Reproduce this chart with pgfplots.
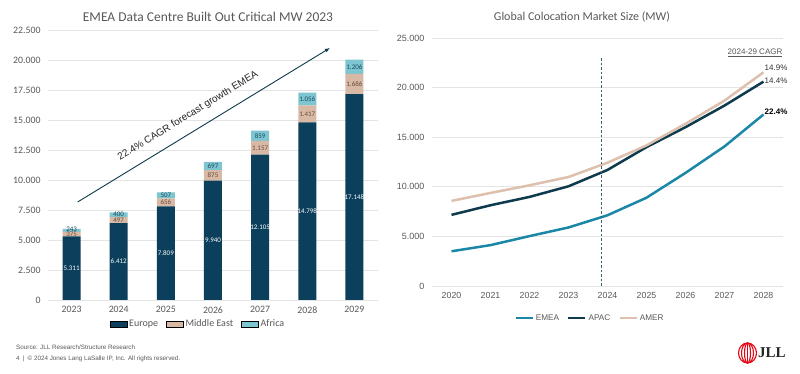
\documentclass[border=0pt]{standalone}
\usepackage{pgfplots}
\pgfplotsset{compat=1.18}
\usepackage{fontspec}
\setmainfont{Carlito}
\newfontfamily\arial{Liberation Sans}
\newfontfamily\serifb{Liberation Serif}
\usetikzlibrary{arrows.meta}
\definecolor{europe}{HTML}{0B3F5C}
\definecolor{mideast}{HTML}{D8B9A5}
\definecolor{africa}{HTML}{7DC5D1}
\definecolor{emea}{HTML}{1A87A6}
\definecolor{apac}{HTML}{0D3A4C}
\definecolor{amer}{HTML}{DDC0AE}
\definecolor{gridc}{HTML}{E4E4E4}
\definecolor{txt}{HTML}{595959}
\definecolor{melab}{HTML}{6A4C3C}
\definecolor{aflab}{HTML}{1C4A5C}
\definecolor{jllred}{HTML}{E30613}
\tikzset{seg/.style={font=\fontsize{7}{8}\selectfont, inner sep=0pt}}
\begin{document}
\begin{tikzpicture}
\begin{scope}[x=1pt,y=1pt]
\path[fill=white] (0,0) rectangle (800,374);
\node[font=\fontsize{13.5}{15}\selectfont, text=txt] at (208,357) {EMEA Data Centre Built Out Critical MW 2023};
\node[font=\fontsize{12}{14}\selectfont, text=txt] at (582,357) {Global Colocation Market Size (MW)};
\node[font=\arial\fontsize{8}{9}\selectfont, text=txt] at (755,321) {\underline{2024-29 CAGR}};
\node[anchor=west, inner sep=0pt, font=\arial\fontsize{6.3}{7}\selectfont, text=txt] at (16,27) {Source: JLL Research/Structure Research};
\node[anchor=west, inner sep=0pt, font=\arial\fontsize{6.3}{7}\selectfont, text=txt] at (16,15) {4\enspace|\enspace\textcopyright\ 2024 Jones Lang LaSalle IP, Inc. All rights reserved.};
\begin{scope}[jllred, line width=1.1pt]
\draw (747.5,21) ellipse (9pt and 10pt);
\draw (747.5,21) ellipse (6pt and 10pt);
\draw (747.5,21) ellipse (3pt and 10pt);
\draw (747.5,11) -- (747.5,31);
\end{scope}
\node[anchor=west, inner sep=0pt, font=\serifb\bfseries\fontsize{15}{16}\selectfont, text=black!85] at (758,21) {JLL};
\end{scope}
% left chart
\begin{axis}[
  at={(48pt,74pt)}, anchor=south west, scale only axis, width=330pt, height=270pt,
  ybar stacked, bar width=18pt,
  xmin=-0.5, xmax=6.5, ymin=0, ymax=22500,
  xtick={0,...,6}, xticklabels={2023,2024,2025,2026,2027,2028,2029},
  ytick={0,2500,...,22500}, scaled y ticks=false,
  axis line style={draw=none}, major tick style={draw=none},
  ymajorgrids, grid style={gridc, line width=0.7pt},
  /pgf/number format/assume math mode=true,
  yticklabel style={/pgf/number format/1000 sep={.}, /pgf/number format/fixed, font=\fontsize{9.8}{11}\selectfont, text=txt, xshift=-4pt},
  xticklabel style={font=\fontsize{9.8}{11}\selectfont, text=txt, yshift=-3pt},
  area legend,
  legend style={at={(0.4545,-0.089)}, anchor=center, draw=none, fill=none,
    legend columns=-1, font=\fontsize{10}{11}\selectfont, text=txt,
    /tikz/every even column/.append style={column sep=6pt}},
]
\addplot[fill=europe, draw=none] coordinates {(0,5311) (1,6412) (2,7809) (3,9940) (4,12105) (5,14798) (6,17148)};
\addplot[fill=mideast, draw=none] coordinates {(0,375) (1,497) (2,656) (3,875) (4,1157) (5,1417) (6,1686)};
\addplot[fill=africa, draw=none] coordinates {(0,243) (1,400) (2,507) (3,697) (4,859) (5,1056) (6,1206)};
\legend{Europe, Middle East, Africa}
\coordinate (e0) at (axis cs:0,2655);
\coordinate (e1) at (axis cs:1,3206);
\coordinate (e2) at (axis cs:2,3904);
\coordinate (e3) at (axis cs:3,4970);
\coordinate (e4) at (axis cs:4,6052);
\coordinate (e5) at (axis cs:5,7399);
\coordinate (e6) at (axis cs:6,8574);
\coordinate (m0) at (axis cs:0,5498);
\coordinate (m1) at (axis cs:1,6660);
\coordinate (m2) at (axis cs:2,8137);
\coordinate (m3) at (axis cs:3,10377);
\coordinate (m4) at (axis cs:4,12683);
\coordinate (m5) at (axis cs:5,15506);
\coordinate (m6) at (axis cs:6,17991);
\coordinate (a0) at (axis cs:0,5860);
\coordinate (a1) at (axis cs:1,7109);
\coordinate (a2) at (axis cs:2,8718);
\coordinate (a3) at (axis cs:3,11163);
\coordinate (a4) at (axis cs:4,13692);
\coordinate (a5) at (axis cs:5,16743);
\coordinate (a6) at (axis cs:6,19437);
\draw[-{Latex[length=5pt,width=4pt]}, line width=0.9pt, color=apac] (axis cs:0.13,8170) -- (axis cs:5.48,21000);
\node[rotate=31.5, font=\arial\fontsize{10}{11}\selectfont, text=black!85] at (axis cs:2.47,15330) {22.4\% CAGR forecast growth EMEA};
\end{axis}
\node[seg, text=white] at (e0) {5.311};
\node[seg, text=white] at (e1) {6.412};
\node[seg, text=white] at (e2) {7.809};
\node[seg, text=white] at (e3) {9.940};
\node[seg, text=white] at (e4) {12.105};
\node[seg, text=white] at (e5) {14.798};
\node[seg, text=white] at (e6) {17.148};
\node[seg, text=melab] at (m0) {375};
\node[seg, text=melab] at (m1) {497};
\node[seg, text=melab] at (m2) {656};
\node[seg, text=melab] at (m3) {875};
\node[seg, text=melab] at (m4) {1.157};
\node[seg, text=melab] at (m5) {1.417};
\node[seg, text=melab] at (m6) {1.686};
\node[seg, text=aflab] at (a0) {243};
\node[seg, text=aflab] at (a1) {400};
\node[seg, text=aflab] at (a2) {507};
\node[seg, text=aflab] at (a3) {697};
\node[seg, text=aflab] at (a4) {859};
\node[seg, text=aflab] at (a5) {1.056};
\node[seg, text=aflab] at (a6) {1.206};
% right chart
\begin{axis}[
  at={(432pt,88pt)}, anchor=south west, scale only axis, width=351pt, height=248pt,
  xmin=-0.5, xmax=8.5, ymin=0, ymax=25000,
  xtick={0,...,8}, xticklabels={2020,2021,2022,2023,2024,2025,2026,2027,2028},
  ytick={0,5000,...,25000}, scaled y ticks=false,
  axis line style={draw=none}, major tick style={draw=none},
  ymajorgrids, grid style={gridc, line width=0.7pt},
  /pgf/number format/assume math mode=true,
  xticklabel style={font=\arial\fontsize{8.8}{10}\selectfont, text=txt, yshift=-3pt},
  yticklabel style={/pgf/number format/1000 sep={.}, /pgf/number format/fixed, font=\arial\fontsize{9}{10}\selectfont, text=txt, xshift=-4pt},
  legend style={at={(0.45,-0.129)}, anchor=center, draw=none, fill=none,
    legend columns=-1, font=\arial\fontsize{8.2}{9}\selectfont, text=txt,
    /tikz/every even column/.append style={column sep=6pt}},
]
\addplot[emea, line width=2.5pt] coordinates {(0,3500) (1,4120) (2,5030) (3,5900) (4,7130) (5,8900) (6,11400) (7,14070) (8,17290)};
\addplot[apac, line width=2.5pt] coordinates {(0,7170) (1,8140) (2,8980) (3,10050) (4,11700) (5,14000) (6,16010) (7,18190) (8,20600)};
\addplot[amer, line width=2.5pt] coordinates {(0,8580) (1,9380) (2,10150) (3,10990) (4,12430) (5,14170) (6,16350) (7,18690) (8,21540)};
\legend{EMEA, APAC, AMER}
\draw[color=apac!80, line width=1pt, dash pattern=on 2.5pt off 2pt] (axis cs:3.85,0) -- (axis cs:3.85,23080);
\coordinate (p1) at (axis cs:8,21980);
\coordinate (p2) at (axis cs:8,20670);
\coordinate (p3) at (axis cs:8,17540);
\end{axis}
\node[anchor=west, inner sep=1pt, font=\arial\fontsize{8}{9}\selectfont, text=black!80] at (p1) {14.9\%};
\node[anchor=west, inner sep=1pt, font=\arial\fontsize{8}{9}\selectfont, text=black!80] at (p2) {14.4\%};
\node[anchor=west, inner sep=1pt, font=\arial\bfseries\fontsize{8}{9}\selectfont, text=black] at (p3) {22.4\%};
\end{tikzpicture}
\end{document}
